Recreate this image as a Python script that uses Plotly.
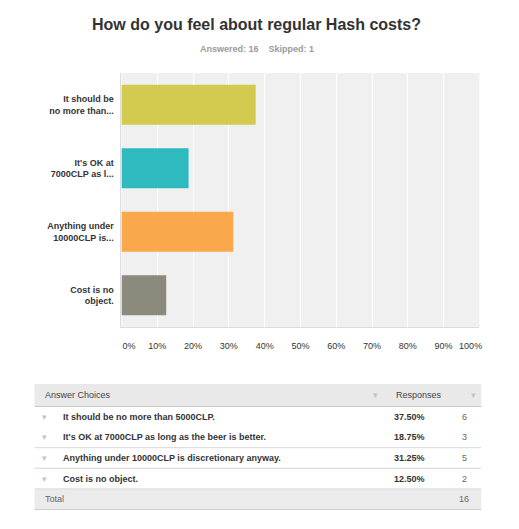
import plotly.graph_objects as go

W, H = 519, 529

title_text = "How do you feel about regular Hash costs?"
answered = 16
skipped = 1

bar_labels = ["It should be<br>no more than...", "It's OK at<br>7000CLP as l...",
              "Anything under<br>10000CLP is...", "Cost is no<br>object."]
full_choices = ["It should be no more than 5000CLP.",
                "It's OK at 7000CLP as long as the beer is better.",
                "Anything under 10000CLP is discretionary anyway.",
                "Cost is no object."]
percents = [37.50, 18.75, 31.25, 12.50]
counts = [6, 3, 5, 2]
total = 16
bar_colors = ["#D1CA4F", "#2EBABE", "#F9A94B", "#8C8A7C"]
tick_vals = [0, 10, 20, 30, 40, 50, 60, 70, 80, 90, 100]
tick_text = ["0%", "10%", "20%", "30%", "40%", "50%", "60%", "70%", "80%", "90%", "100%"]
header_labels = ["Answer Choices", "Responses"]
total_label = "Total"

FONT = "Liberation Sans, Arial, Helvetica, sans-serif"
ARROW = "\u25be"
NB = "\u00a0"


def px_x(v):
    return v / W


def px_y(v):
    return 1 - v / H


# end labels sit inside the plot edges, as in the reference
shown_ticks = list(tick_text)
shown_ticks[0] = NB * 6 + shown_ticks[0]
shown_ticks[-1] = shown_ticks[-1] + NB * 7

fig = go.Figure()

fig.add_trace(go.Bar(
    x=percents, y=bar_labels, orientation="h",
    marker=dict(color=bar_colors, line=dict(width=0)),
    hoverinfo="skip", showlegend=False,
))

# ---------------- table (shapes + text) ----------------
T_L, T_R = 22, 500
HEAD_TOP, HEAD_BOT = 384, 406.5
ROW_H = 20.6
X_ARROW, X_TEXT, X_HARROW, X_PCT, X_CNT, X_HARROW2 = 33, 50, 387, 405, 482, 492

shapes = []
annos = []


def hline(y, color):
    shapes.append(dict(type="line", xref="paper", yref="paper",
                       x0=px_x(T_L), x1=px_x(T_R), y0=px_y(y), y1=px_y(y),
                       line=dict(color=color, width=1), layer="above"))


def rect(y0, y1, color):
    shapes.append(dict(type="rect", xref="paper", yref="paper",
                       x0=px_x(T_L), x1=px_x(T_R), y0=px_y(y1), y1=px_y(y0),
                       fillcolor=color, line=dict(width=0), layer="below"))


def txt(s, x, y, anchor="left", color="#333333", size=9):
    annos.append(dict(text=s, x=px_x(x), y=px_y(y), xref="paper", yref="paper",
                      xanchor=anchor, yanchor="middle", showarrow=False,
                      font=dict(family=FONT, size=size, color=color)))


rect(HEAD_TOP, HEAD_BOT, "#E9E9E9")
hc = (HEAD_TOP + HEAD_BOT) / 2
txt(header_labels[0], 31, hc, color="#444444")
txt(ARROW, X_HARROW, hc, anchor="center", color="#C4C4C4")
txt(header_labels[1], 407, hc, color="#444444")
txt(ARROW, X_HARROW2, hc, anchor="center", color="#C4C4C4")
hline(HEAD_BOT, "#C8C8C8")

for i, (ch, p, c) in enumerate(zip(full_choices, percents, counts)):
    y0 = HEAD_BOT + i * ROW_H
    yc = y0 + ROW_H / 2
    txt(ARROW, X_ARROW, yc, anchor="center", color="#C4C4C4")
    txt("<b>" + ch + "</b>", X_TEXT, yc, color="#333333")
    txt("<b>%.2f%%</b>" % p, X_PCT, yc, color="#333333")
    txt(str(c), X_CNT, yc, anchor="center", color="#666666")
    if i >= 1:
        hline(y0 + ROW_H, "#D8D8D8")

tot_top = HEAD_BOT + len(counts) * ROW_H
tot_bot = tot_top + ROW_H
rect(tot_top, tot_bot, "#EBEBEB")
txt(total_label, 31, (tot_top + tot_bot) / 2, color="#666666")
txt(str(total), X_CNT, (tot_top + tot_bot) / 2, anchor="center", color="#666666")
hline(tot_bot, "#D0D0D0")

annos.append(dict(
    text="<b>Answered: %d\u00a0\u00a0\u00a0\u00a0Skipped: %d</b>" % (answered, skipped),
    x=0.5, y=px_y(49), xref="paper", yref="paper",
    xanchor="center", yanchor="middle", showarrow=False,
    font=dict(family=FONT, size=9, color="#9A9A9A")))

fig.update_layout(
    width=W, height=H,
    margin=dict(l=0, r=0, t=0, b=0),
    paper_bgcolor="#FFFFFF",
    plot_bgcolor="#F0F0F0",
    bargap=0.37,
    hovermode=False,
    font=dict(family=FONT, size=9, color="#333333"),
    title=dict(text="<b>" + title_text + "</b>", x=0.5, xanchor="center",
               xref="paper",
               y=px_y(24), yref="container", yanchor="middle",
               font=dict(family=FONT, size=16, color="#333333")),
    xaxis=dict(domain=[px_x(115), px_x(498)], range=[0, 100],
               tickvals=tick_vals, ticktext=shown_ticks,
               ticklabeloverflow="allow",
               showgrid=True, gridcolor="#FFFFFF", gridwidth=1,
               zeroline=False, showline=True, linecolor="#DCDCDC",
               ticks="", ticklabelstandoff=10,
               tickfont=dict(family=FONT, size=9, color="#333333"),
               fixedrange=True),
    yaxis=dict(domain=[px_y(327), px_y(73)], autorange="reversed",
               showgrid=False, zeroline=False, showline=True, linecolor="#DCDCDC",
               ticks="", ticklabelstandoff=5,
               tickprefix="<b>", ticksuffix="</b>",
               tickfont=dict(family=FONT, size=9, color="#333333"),
               fixedrange=True),
    shapes=shapes,
    annotations=annos,
)

fig.write_html("out.html",
               config={"displayModeBar": False},
               post_script="document.body.style.margin='0';"
                           "document.body.style.overflow='hidden';")
